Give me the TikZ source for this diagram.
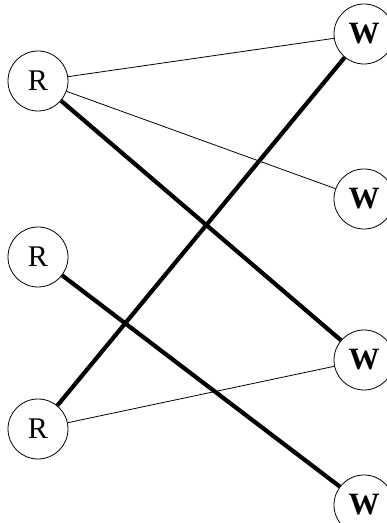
\documentclass[tikz,border=0pt]{standalone}
\usepackage{fontspec}
\setmainfont{Liberation Serif}
\usepackage{tikz}
\usetikzlibrary{positioning}

\begin{document}
\begin{tikzpicture}[x=1pt,y=1pt,
    vertex/.style={circle, draw, line width=0.8pt, minimum size=60pt, inner sep=0pt,
        font=\fontsize{30}{30}\selectfont},
    writer/.style={vertex, font=\fontsize{31}{31}\selectfont\bfseries},
    thinedge/.style={line width=0.8pt},
    thickedge/.style={line width=4.2pt}]
    \useasboundingbox (0,0) rectangle (387,523);

    % readers
    \node[vertex] (r1) at (38,442) {R};
    \node[vertex] (r2) at (38,266) {R};
    \node[vertex] (r3) at (38,94) {R};

    % writers
    \node[writer] (w1) at (364,489) {W};
    \node[writer] (w2) at (364,324) {W};
    \node[writer] (w3) at (364,163) {W};
    \node[writer] (w4) at (364,18) {W};

    % edges
    \draw[thinedge] (r1) -- (w1);
    \draw[thinedge] (r1) -- (w2);
    \draw[thickedge] (r1) -- (w3);
    \draw[thickedge] (r2) -- (w4);
    \draw[thickedge] (r3) -- (w1);
    \draw[thinedge] (r3) -- (w3);
\end{tikzpicture}
\end{document}
